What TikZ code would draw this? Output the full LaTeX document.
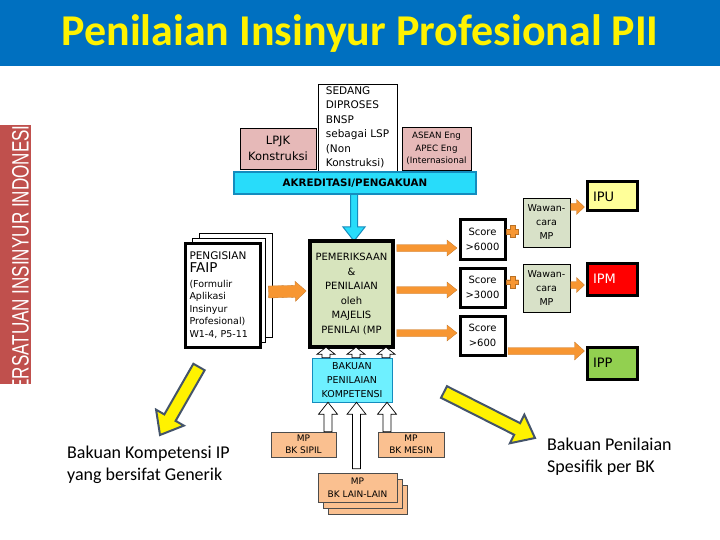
\documentclass[tikz,border=0pt]{standalone}
\usepackage{graphicx}
\usepackage{fontspec}
\setmainfont{DejaVu Sans}
\newfontfamily\calfont{Carlito}
\newfontfamily\arialfont{Liberation Sans}
\usetikzlibrary{calc,arrows.meta}
\definecolor{titleblue}{RGB}{0,112,192}
\definecolor{sidered}{RGB}{192,80,77}
\definecolor{pinkbox}{RGB}{230,185,184}
\definecolor{cyanbar}{RGB}{40,220,250}
\definecolor{cyanedge}{RGB}{20,140,190}
\definecolor{bakcyan}{RGB}{110,240,255}
\definecolor{olivebox}{RGB}{215,228,189}
\definecolor{wawbox}{RGB}{216,225,200}
\definecolor{arrorange}{RGB}{247,150,50}
\definecolor{ipuyellow}{RGB}{255,255,153}
\definecolor{ippgreen}{RGB}{146,208,80}
\definecolor{peach}{RGB}{250,192,144}
\definecolor{yellowedge}{RGB}{68,84,106}
% block arrow: style, from, to, shaft half width, head half width, head length
\newcommand{\barrow}[6]{%
  \coordinate (ba-m) at ($(#3)!#6!(#2)$);
  \path[#1] ($(#2)!#4!90:(#3)$) -- ($(ba-m)!#4!-90:(#2)$) -- ($(ba-m)!#5!-90:(#2)$)
    -- (#3) -- ($(ba-m)!#5!90:(#2)$) -- ($(ba-m)!#4!90:(#2)$) -- ($(#2)!#4!-90:(#3)$) -- cycle;
}
\newcommand{\plusmark}[1]{%
  \path[fill=arrorange, draw=arrorange!75!black, line width=0.4pt]
    ($(#1)+(-2.3,-6)$) -- ($(#1)+(2.3,-6)$) -- ($(#1)+(2.3,-2.3)$) -- ($(#1)+(6,-2.3)$)
    -- ($(#1)+(6,2.3)$) -- ($(#1)+(2.3,2.3)$) -- ($(#1)+(2.3,6)$) -- ($(#1)+(-2.3,6)$)
    -- ($(#1)+(-2.3,2.3)$) -- ($(#1)+(-6,2.3)$) -- ($(#1)+(-6,-2.3)$) -- ($(#1)+(-2.3,-2.3)$) -- cycle;
}
\begin{document}
\begin{tikzpicture}[x=1pt,y=-1pt,
  bx/.style={draw=black, line width=0.6pt, inner sep=0pt, align=center},
  thickbx/.style={draw=black, line width=3.5pt, inner sep=0pt, align=center},
  orangearr/.style={fill=arrorange, draw=arrorange!80!black, line width=0.3pt},
  hollowarr/.style={fill=white, draw=black, line width=0.7pt},
  yellowarr/.style={fill=yellow, draw=yellowedge, line width=2pt, line join=miter},
  cyanarr/.style={fill=cyanbar, draw=cyanedge, line width=1pt},
  f9/.style={font=\fontsize{9}{12.5}\selectfont},
  f10/.style={font=\fontsize{10}{14.5}\selectfont},
  ipbox/.style={thickbx, line width=3pt, minimum width=50, text width=38, inner xsep=6pt, align=left, font=\fontsize{13}{15}\selectfont},
]
\path[use as bounding box, fill=white] (0,0) rectangle (720,540);
% title bar
\fill[titleblue] (0,0) rectangle (720,66);
\node[font=\calfont\bfseries\fontsize{44}{44}\selectfont, text=yellow, anchor=base, inner sep=0pt] (title) at (360,46) {Penilaian Insinyur Profesional PII};
% side bar
\begin{scope}
\clip (0,125) rectangle (31,384);
\fill[sidered] (0,125) rectangle (31,384);
\node[rotate=90, text=white, inner sep=0pt, font=\arialfont\fontsize{23.7}{24}\selectfont] (side) at (20.5,258) {\scalebox{0.72}[1]{PERSATUAN INSINYUR INDONESIA}};
\end{scope}

% top boxes
\node[bx, fill=pinkbox, minimum width=76, minimum height=41, font=\fontsize{11.5}{16}\selectfont] (lpjk) at (278,148.5) {LPJK\\Konstruksi};
\node[bx, fill=white, minimum width=79, minimum height=87, align=left, font=\fontsize{10.5}{14.5}\selectfont] (sedang) at (357.5,127.5) {SEDANG\\DIPROSES\\BNSP\\sebagai LSP\\(Non\\Konstruksi)};
\node[bx, fill=pinkbox, minimum width=69, minimum height=43, font=\fontsize{8.7}{12.5}\selectfont] (asean) at (436.5,148.5) {ASEAN Eng\\APEC Eng\\(Internasional};

% cyan down arrow
\coordinate (dn1) at (354,190);
\coordinate (dn2) at (354,241);
\barrow{cyanarr}{dn1}{dn2}{3.5pt}{11pt}{14pt}
\node[draw=cyanedge, fill=cyanbar, line width=1.2pt, minimum width=242, minimum height=22, inner sep=0pt, font=\bfseries\fontsize{10.3}{11}\selectfont] (akred) at (355,183) {AKREDITASI/PENGAKUAN};

% PENGISIAN stack
\node[bx, fill=white, minimum width=73, minimum height=104] (peng3) at (235.5,285) {};
\node[bx, fill=white, minimum width=73, minimum height=104] (peng2) at (229,290) {};
\node[draw=black, line width=3pt, fill=white, text width=66, inner xsep=4.5pt, minimum height=104, align=left, font=\fontsize{9.5}{12.5}\selectfont] (peng1) at (222.5,295)
  {{\fontsize{10.5}{13}\selectfont PENGISIAN}\\[1pt]{\fontsize{13.5}{15}\selectfont FAIP}\\[2pt](Formulir\\Aplikasi\\Insinyur\\Profesional)\\W1-4, P5-11};

% PEMERIKSAAN
\node[thickbx, fill=olivebox, minimum width=83, minimum height=106, font=\fontsize{10}{14.5}\selectfont] (pem) at (351.5,294) {PEMERIKSAAN\\\&\\PENILAIAN\\oleh\\MAJELIS\\PENILAI (MP};

\coordinate (fa1) at ($(peng1.east)+(7,-3)$);
\coordinate (fa2) at ($(pem.west)+(-2,-3)$);
\barrow{orangearr}{fa1}{fa2}{6pt}{10pt}{11pt}

% score boxes
\node[thickbx, line width=3pt, fill=white, minimum width=45, minimum height=39, f10] (score1) at (482.5,239.5) {Score\\>6000};
\node[thickbx, line width=3pt, fill=white, minimum width=45, minimum height=39, f10] (score2) at (482.5,287.5) {Score\\>3000};
\node[thickbx, line width=3pt, fill=white, minimum width=45, minimum height=39, f10] (score3) at (482.5,335.5) {Score\\>600};

\coordinate (sa1) at ($(pem.east |- score1.west)+(2,8.5)$);
\coordinate (sb1) at ($(score1.west)+(-1.5,8.5)$);
\coordinate (sa2) at ($(pem.east |- score2.west)+(2,2.5)$);
\coordinate (sb2) at ($(score2.west)+(-1.5,2.5)$);
\coordinate (sa3) at ($(pem.east |- score3.west)+(2,-2.5)$);
\coordinate (sb3) at ($(score3.west)+(-1.5,-2.5)$);
\barrow{orangearr}{sa1}{sb1}{3.5pt}{8pt}{10pt}
\barrow{orangearr}{sa2}{sb2}{3.5pt}{8pt}{10pt}
\barrow{orangearr}{sa3}{sb3}{3.5pt}{8pt}{10pt}

% wawancara
\node[bx, fill=wawbox, line width=0.5pt, minimum width=47, minimum height=49, font=\fontsize{9.5}{14}\selectfont] (waw1) at (546.5,222.5) {Wawan-\\cara\\MP};
\node[bx, fill=wawbox, line width=0.5pt, minimum width=47, minimum height=48, font=\fontsize{9.5}{14}\selectfont] (waw2) at (546.5,288) {Wawan-\\cara\\MP};
\coordinate (pl1) at (512.5,231.5);
\coordinate (pl2) at (512.5,282);
\plusmark{pl1}
\plusmark{pl2}

% IP boxes
\node[ipbox, fill=ipuyellow, minimum height=29] (ipu) at (612,196.5) {IPU};
\node[ipbox, fill=red, text=white, minimum height=32] (ipm) at (612,279) {IPM};
\node[ipbox, fill=ippgreen, minimum height=32] (ipp) at (612,363) {IPP};

\coordinate (wa1) at ($(waw1.east)+(0.5,-15.5)$);
\coordinate (wb1) at ($(ipu.west |- wa1)+(-1,0)$);
\coordinate (wa2) at ($(waw2.east)+(0.5,-3)$);
\coordinate (wb2) at ($(ipm.west |- wa2)+(-1,0)$);
\barrow{orangearr}{wa1}{wb1}{3.5pt}{7.5pt}{8pt}
\barrow{orangearr}{wa2}{wb2}{3.5pt}{7.5pt}{8pt}
\coordinate (pa) at ($(score3.east)+(1.5,15.5)$);
\coordinate (pb) at ($(ipp.west |- pa)+(-1,0)$);
\barrow{orangearr}{pa}{pb}{3.5pt}{9pt}{10pt}

% BAKUAN
\node[draw=cyanedge, line width=0.6pt, fill=bakcyan, minimum width=80, minimum height=44, inner sep=0pt, align=center, font=\fontsize{9.5}{14}\selectfont] (bakuan) at (352,380) {BAKUAN\\PENILAIAN\\KOMPETENSI};
\coordinate (ha1) at ($(bakuan.north)+(-26,0)$);
\coordinate (hb1) at ($(pem.south)+(-25.5,-1.5)$);
\coordinate (ha2) at ($(bakuan.north)+(4,0)$);
\coordinate (hb2) at ($(pem.south)+(4.5,-1.5)$);
\coordinate (ha3) at ($(bakuan.north)+(34,0)$);
\coordinate (hb3) at ($(pem.south)+(34.5,-1.5)$);
\barrow{hollowarr}{ha1}{hb1}{4pt}{9pt}{7pt}
\barrow{hollowarr}{ha2}{hb2}{4pt}{9pt}{7pt}
\barrow{hollowarr}{ha3}{hb3}{4pt}{9pt}{7pt}

% MP boxes
\node[bx, draw=black!70, fill=peach, minimum width=65, minimum height=25, f9] (sipil) at (303.5,444.5) {MP\\BK SIPIL};
\node[bx, draw=black!70, fill=peach, minimum width=66, minimum height=25, f9] (mesin) at (411,444.5) {MP\\BK MESIN};
\node[bx, draw=black!70, fill=peach, minimum width=79, minimum height=29] (lain3) at (367.5,499.5) {};
\node[bx, draw=black!70, fill=peach, minimum width=79, minimum height=29] (lain2) at (362.5,493.5) {};
\node[bx, draw=black!70, fill=peach, minimum width=79, minimum height=29, f9] (lain1) at (357.5,487.5) {MP\\BK LAIN-LAIN};

\coordinate (ma1) at ($(sipil.north)+(24.5,0)$);
\coordinate (mb1) at ($(bakuan.south)+(-24,0)$);
\coordinate (ma2) at ($(lain1.north)+(-1,-4)$);
\coordinate (mb2) at ($(bakuan.south)+(4.5,0)$);
\coordinate (ma3) at ($(mesin.north)+(-24,0)$);
\coordinate (mb3) at ($(bakuan.south)+(35,0)$);
\barrow{hollowarr}{ma1}{mb1}{4pt}{9.5pt}{12pt}
\barrow{hollowarr}{ma2}{mb2}{4pt}{9.5pt}{12pt}
\barrow{hollowarr}{ma3}{mb3}{4pt}{9.5pt}{12pt}

% yellow arrows
\coordinate (yl1) at (199,367);
\coordinate (yl2) at (160,435);
\coordinate (yr1) at (444,392);
\coordinate (yr2) at (535,438);
\barrow{yellowarr}{yl1}{yl2}{6.5pt}{16pt}{20pt}
\barrow{yellowarr}{yr1}{yr2}{6.5pt}{16pt}{20pt}

% bottom texts
\node[font=\calfont\fontsize{18}{22}\selectfont, align=left, anchor=north west, inner sep=0pt] (gentext) at (67,445.5) {Bakuan Kompetensi IP\\yang bersifat Generik};
\node[font=\calfont\fontsize{18}{22}\selectfont, align=left, anchor=north west, inner sep=0pt] (spectext) at (547,437.5) {Bakuan Penilaian\\Spesifik per BK};
\end{tikzpicture}
\end{document}
